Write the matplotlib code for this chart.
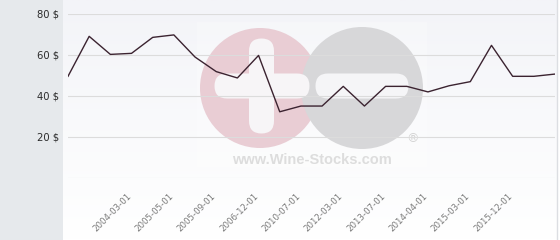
import matplotlib.pyplot as plt
import matplotlib.transforms as mtransforms
import numpy as np
from matplotlib.patches import Circle, FancyBboxPatch, Rectangle

# prices, one per listing date
prices = [49.6, 69.1, 60.3, 60.8, 68.6, 69.8, 59.0, 51.9, 48.8, 59.8,
          32.3, 35.1, 35.1, 44.7, 35.1, 44.7, 44.7, 42.0, 45.0, 47.0,
          64.7, 49.6, 49.6, 50.7]
tick_idx = [3, 5, 7, 9, 11, 13, 15, 17, 19, 21]
tick_labels = ['2004-03-01', '2005-05-01', '2005-09-01', '2006-12-01',
               '2010-07-01', '2012-03-01', '2013-07-01', '2014-04-01',
               '2015-03-01', '2015-12-01']
y_ticks = [20, 40, 60, 80]

W, H = 560, 240
fig = plt.figure(figsize=(W / 100, H / 100), dpi=100)

# background layer in pixel coords (y down)
bg = fig.add_axes([0, 0, 1, 1], zorder=0)
bg.set_xlim(0, W)
bg.set_ylim(H, 0)
bg.axis('off')
bg.add_patch(Rectangle((0, 0), 63, H, color='#e6e9ec', lw=0))
grad = np.linspace(0, 1, 100).reshape(-1, 1)
top = np.array([243, 244, 248]) / 255
bot = np.array([255, 255, 255]) / 255
img = top + (bot - top) * grad[..., None]
bg.imshow(img, extent=(63, 557, H, 0), aspect='auto')
bg.plot([557, 557], [0, H], color='#dcdee2', lw=1)

# watermark
bg.add_patch(Rectangle((197, 22), 230, 145, color='white', alpha=0.25, lw=0))
bg.add_patch(Circle((260, 88), 60, color='#e9cdd4', lw=0))
bg.add_patch(Circle((362, 88), 61, color='#d7d7d9', lw=0))
bg.add_patch(FancyBboxPatch((227, 86), 70, 0,
                            boxstyle='round,pad=12.5', color='#f7f5f7', lw=0))
bg.add_patch(FancyBboxPatch((261.5, 51), 0, 70,
                            boxstyle='round,pad=12.5', color='#f7f5f7', lw=0))
bg.add_patch(FancyBboxPatch((328, 86), 68, 0,
                            boxstyle='round,pad=12.5', color='#f5f5f7', lw=0))
bg.text(312, 160, 'www.Wine-Stocks.com', ha='center', va='center',
        fontsize=10.5, fontweight='bold', family='Liberation Sans', color='#dddddd')
bg.text(413, 139, '®', ha='center', va='center', fontsize=9,
        family='DejaVu Sans', color='#d4d4d4')

# main chart
ax = fig.add_axes([68 / W, (H - 178) / H, (555 - 68) / W, (178 - 14) / H], zorder=1)
ax.set_facecolor('none')
ax.plot(range(len(prices)), prices, color='#3b2330', lw=1.0)
ax.set_xlim(0, len(prices) - 1)
ax.set_ylim(0, 80)
ax.set_yticks([0] + y_ticks)
ax.set_yticklabels([''] + [f'{v} $' for v in y_ticks])
ax.grid(axis='y', color='#dcdcdc', lw=0.8)
ax.set_axisbelow(True)
for s in ax.spines.values():
    s.set_visible(False)
ax.tick_params(axis='y', length=0, pad=6.5, labelsize=7.2, labelcolor='#2b2b2b')
ax.set_xticks(tick_idx)
ax.set_xticklabels(tick_labels, rotation=45, ha='right', va='top',
                   rotation_mode='anchor')
ax.tick_params(axis='x', length=0, pad=10, labelsize=6.2, labelcolor='#7a7a7a')
shift = mtransforms.ScaledTranslation(-5 / 100, 0, fig.dpi_scale_trans)
for lab in ax.get_xticklabels():
    lab.set_transform(lab.get_transform() + shift)

fig.savefig('out.png', dpi=100)
